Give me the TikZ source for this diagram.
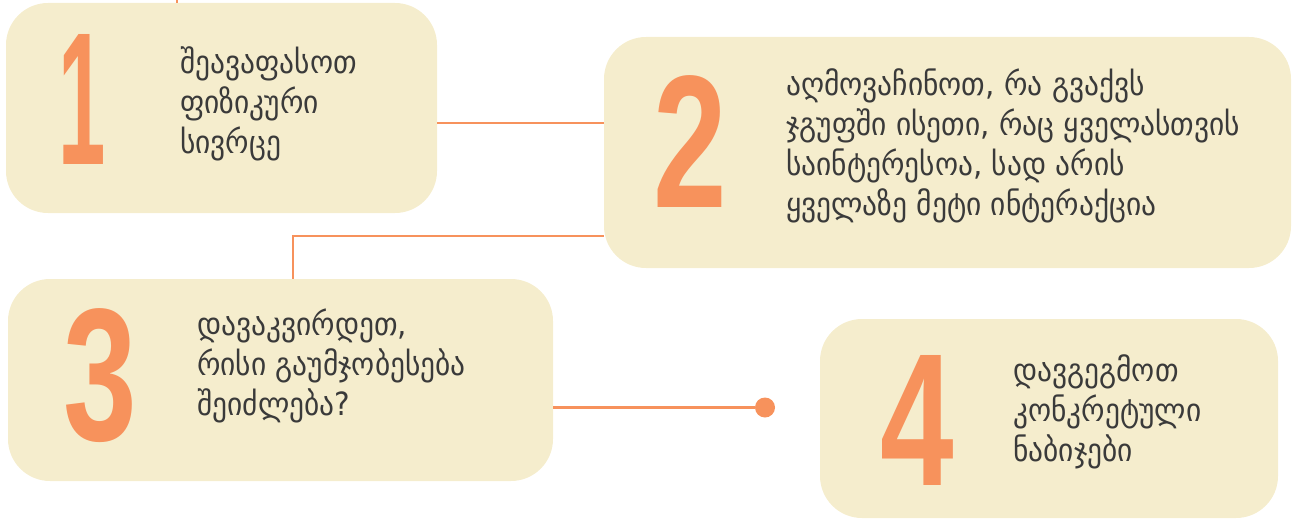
\documentclass[tikz,border=0pt]{standalone}
\usepackage{fontspec}
\newfontfamily\geo{DejaVu Sans}[FakeStretch=0.92]
\newfontfamily\numfont{Liberation Sans}[FakeStretch=0.7]
\newfontfamily\numfontnarrow{Liberation Sans}[FakeStretch=0.45]
\definecolor{boxfill}{HTML}{F5EDCD}
\definecolor{accent}{HTML}{F7925C}
\definecolor{ink}{HTML}{3A3A3A}
\tikzset{
  card/.style={fill=boxfill, draw=none, rounded corners=42pt, inner sep=0pt},
  bignum/.style={font=\numfont\bfseries\fontsize{189}{189}\selectfont, text=accent, inner sep=0pt, anchor=base},
  label/.style={font=\geo\fontsize{32}{40}\selectfont, text=ink, align=left, inner sep=0pt, anchor=base west},
  link/.style={draw=accent, line width=2.5pt},
  enddot/.style={circle, fill=accent, minimum size=20pt, inner sep=0pt}
}
\begin{document}
\begin{tikzpicture}[x=1pt, y=-1pt]
\useasboundingbox (0,0) rectangle (1292,519);
% cards
\node[card, minimum width=431pt, minimum height=210pt] (b1) at (221.5,108) {};
\node[card, minimum width=687pt, minimum height=231pt] (b2) at (947.5,152.5) {};
\node[card, minimum width=545pt, minimum height=202pt] (b3) at (280.5,380) {};
\node[card, minimum width=458pt, minimum height=199pt] (b4) at (1049,418.5) {};
\node[enddot] (d) at (765,407.5) {};
% connectors
\coordinate (top) at (177,0);
\draw[link] (top) -- (top |- b1.north);
\draw[link] (b1.east |- 0,123) -- (b2.west |- 0,123);
\draw[link] (b2.west |- 0,236) -| (b3.north -| 293,0);
\draw[link] (b3.east |- 0,407.5) -- (d);
% numbers
\node[bignum, font=\numfontnarrow\bfseries\fontsize{189}{189}\selectfont] (n1) at (82,164) {1};
\node[bignum] (n2) at (690.5,207) {2};
\node[bignum] (n3) at (100,440) {3};
\node[bignum] (n4) at (917.5,485) {4};
% texts (anchored at the baseline of the last line)
\node[label] (t1) at (180,153) {შეავაფასოთ\\ფიზიკური\\სივრცე};
\node[label] (t2) at (786,215) {აღმოვაჩინოთ, რა გვაქვს\\ჯგუფში ისეთი, რაც ყველასთვის\\საინტერესოა, სად არის\\ყველაზე მეტი ინტერაქცია};
\node[label] (t3) at (197,415) {დავაკვირდეთ,\\რისი გაუმჯობესება\\შეიძლება?};
\node[label] (t4) at (1013,461) {დავგეგმოთ\\კონკრეტული\\ნაბიჯები};
\end{tikzpicture}
\end{document}
